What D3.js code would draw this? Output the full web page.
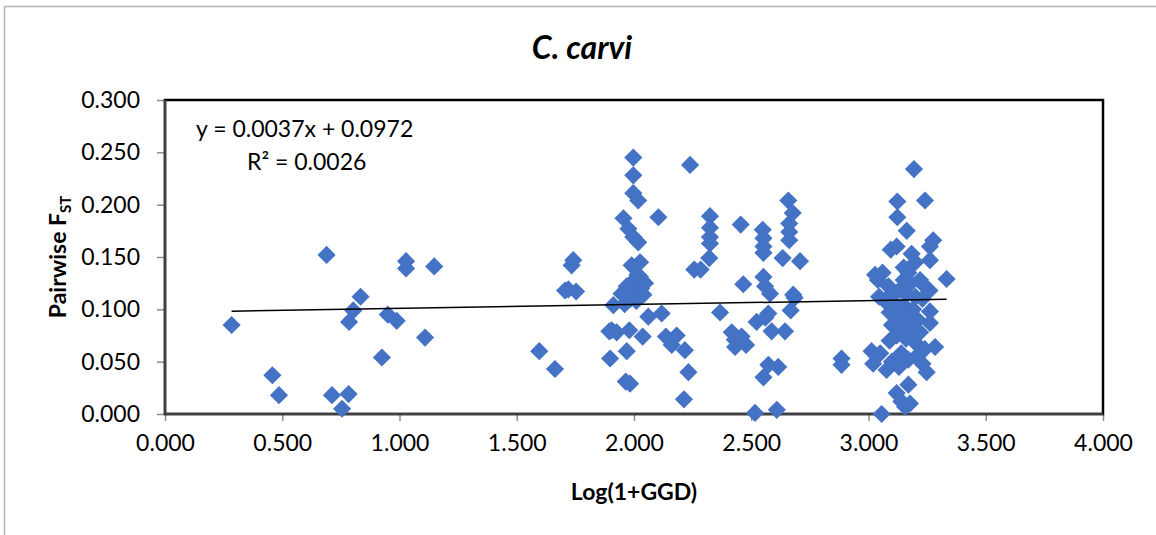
<!DOCTYPE html>
<html>
<head>
<meta charset="utf-8">
<script src="https://cdn.jsdelivr.net/npm/d3@7"></script>
<style>
  html, body { margin: 0; padding: 0; background: #fff; }
  svg { display: block; font-family: Lato, "Open Sans", sans-serif; }
</style>
</head>
<body>
<svg id="chart" width="1156" height="535"></svg>
<script>
// ---- data ----
const title = "C. carvi";
const xTitle = "Log(1+GGD)";
const yTitleMain = "Pairwise F";
const yTitleSub = "ST";
const equationText = "y = 0.0037x + 0.0972";
const r2Text = "R² = 0.0026";
const slope = 0.0037;
const intercept = 0.0972;
const xTicks = [0, 0.5, 1, 1.5, 2, 2.5, 3, 3.5, 4];
const yTicks = [0, 0.05, 0.1, 0.15, 0.2, 0.25, 0.3];

const ggd = [
  0.284, 0.458, 0.486, 0.689, 0.712, 0.755, 0.783, 0.785, 0.803, 0.834,
  0.925, 0.950, 0.988, 1.028, 1.028, 1.109, 1.148, 1.596, 1.663, 1.706,
  1.734, 1.741, 1.753, 1.720,
  1.997, 1.997, 1.997, 2.018, 1.955, 1.976, 1.997, 2.018, 2.104, 2.239,
  2.257, 1.990, 2.026, 2.026, 2.047, 1.969, 1.997, 2.004, 2.040, 1.947,
  1.912, 2.061, 2.118, 1.905, 1.926, 1.980, 2.037, 2.136, 2.182, 2.161,
  2.217, 1.969, 1.898, 1.983, 1.965, 2.232, 2.213, 2.010, 1.985, 2.030,
  1.960, 2.015, 1.895,
  2.324, 2.324, 2.324, 2.324, 2.321, 2.284, 2.455, 2.549, 2.552, 2.552,
  2.552, 2.658, 2.677, 2.662, 2.662, 2.662, 2.634, 2.708, 2.466, 2.552,
  2.559, 2.580, 2.679, 2.668, 2.367, 2.573, 2.523, 2.587, 2.644, 2.417,
  2.459, 2.431, 2.478, 2.573, 2.615, 2.552, 2.516, 2.609, 2.685, 2.560,
  2.430,
  2.885, 2.885,
  3.194, 3.123, 3.241, 3.123, 3.163, 3.276, 3.262, 3.095, 3.120, 3.184,
  3.262, 3.200, 3.028, 3.040, 3.333, 3.085, 3.150, 3.170, 3.150, 3.180,
  3.220, 3.240, 3.260, 3.100, 3.130, 3.160, 3.200, 3.230, 3.070, 3.110,
  3.150, 3.190, 3.262, 3.090, 3.130, 3.170, 3.210, 3.262, 3.100, 3.140,
  3.180, 3.220, 3.120, 3.160, 3.090, 3.200, 3.284, 3.240, 3.013, 3.050,
  3.140, 3.205, 3.170, 3.020, 3.100, 3.230, 3.077, 3.130, 3.248, 3.170,
  3.120, 3.156, 3.177, 3.056, 3.140, 3.060, 3.045
];
const fst = [
  0.085, 0.037, 0.018, 0.152, 0.018, 0.005, 0.019, 0.088, 0.099, 0.112,
  0.054, 0.095, 0.089, 0.146, 0.139, 0.073, 0.141, 0.060, 0.043, 0.118,
  0.142, 0.147, 0.117, 0.119,
  0.245, 0.228, 0.211, 0.204, 0.187, 0.177, 0.169, 0.164, 0.188, 0.238,
  0.138, 0.142, 0.145, 0.131, 0.125, 0.122, 0.127, 0.117, 0.114, 0.115,
  0.104, 0.093, 0.096, 0.080, 0.078, 0.080, 0.074, 0.074, 0.075, 0.066,
  0.061, 0.060, 0.053, 0.029, 0.031, 0.040, 0.014, 0.108, 0.110, 0.120,
  0.105, 0.133, 0.079,
  0.189, 0.178, 0.169, 0.163, 0.149, 0.138, 0.181, 0.176, 0.168, 0.160,
  0.154, 0.204, 0.192, 0.182, 0.174, 0.166, 0.149, 0.146, 0.124, 0.131,
  0.122, 0.115, 0.114, 0.099, 0.097, 0.096, 0.088, 0.079, 0.079, 0.078,
  0.074, 0.064, 0.066, 0.047, 0.045, 0.035, 0.001, 0.004, 0.111, 0.092,
  0.071,
  0.053, 0.047,
  0.234, 0.203, 0.204, 0.188, 0.175, 0.166, 0.160, 0.157, 0.160, 0.153,
  0.147, 0.145, 0.133, 0.128, 0.129, 0.122, 0.140, 0.135, 0.128, 0.125,
  0.128, 0.122, 0.118, 0.115, 0.118, 0.115, 0.112, 0.110, 0.108, 0.105,
  0.104, 0.100, 0.098, 0.097, 0.094, 0.092, 0.090, 0.087, 0.085, 0.082,
  0.080, 0.078, 0.075, 0.072, 0.070, 0.068, 0.064, 0.062, 0.060, 0.058,
  0.058, 0.055, 0.052, 0.048, 0.050, 0.048, 0.042, 0.045, 0.040, 0.028,
  0.020, 0.007, 0.010, 0.000, 0.012, 0.135, 0.112
];

// ---- layout ----
const svg = d3.select("#chart");
const plot = { left: 165, right: 1103, top: 100, bottom: 414 };
const x = d3.scaleLinear().domain([0, 4]).range([plot.left, plot.right]);
const y = d3.scaleLinear().domain([0, 0.3]).range([plot.bottom, plot.top]);
const blue = "#4472C4";
const fontSize = 23;

// outer chart frame
svg.append("rect")
  .attr("x", 4.5).attr("y", 6.5)
  .attr("width", 1170).attr("height", 560)
  .attr("fill", "none").attr("stroke", "#b4b4b4").attr("stroke-width", 1.5);

// title
svg.append("text")
  .attr("x", 582).attr("y", 59)
  .attr("text-anchor", "middle")
  .attr("font-size", 32).attr("font-weight", "bold").attr("font-style", "italic")
  .attr("fill", "#000")
  .text(title);

// y axis
const yAxis = svg.append("g")
  .attr("transform", `translate(${plot.left},0)`)
  .call(d3.axisLeft(y).tickValues(yTicks).tickFormat(d3.format(".3f")).tickSize(8).tickPadding(17));
yAxis.select(".domain").remove();
yAxis.selectAll(".tick line").attr("stroke", "#8c8c8c").attr("stroke-width", 1.5);
yAxis.selectAll(".tick text").attr("font-size", fontSize).attr("font-family", "Lato").attr("fill", "#000");

// x axis
const xAxis = svg.append("g")
  .attr("transform", `translate(0,${plot.bottom})`)
  .call(d3.axisBottom(x).tickValues(xTicks).tickFormat(d3.format(".3f")).tickSize(7).tickPadding(14));
xAxis.select(".domain").remove();
xAxis.selectAll(".tick line").attr("stroke", "#8c8c8c").attr("stroke-width", 1.5);
xAxis.selectAll(".tick text").attr("font-size", fontSize).attr("font-family", "Lato").attr("fill", "#000");

// plot area border
svg.append("rect")
  .attr("x", plot.left).attr("y", plot.top)
  .attr("width", plot.right - plot.left).attr("height", plot.bottom - plot.top)
  .attr("fill", "none").attr("stroke", "#000").attr("stroke-width", 2.5);
svg.append("line")
  .attr("x1", plot.left).attr("x2", plot.right)
  .attr("y1", plot.bottom).attr("y2", plot.bottom)
  .attr("stroke", "#404040").attr("stroke-width", 2.5);
svg.append("line")
  .attr("x1", plot.left).attr("x2", plot.left)
  .attr("y1", plot.top).attr("y2", plot.bottom)
  .attr("stroke", "#404040").attr("stroke-width", 2.5);

// points
const points = ggd.map((g, i) => ({ g, f: fst[i] }));
const diamond = d3.symbol().type(d3.symbolSquare).size(165);
svg.append("g")
  .selectAll("path")
  .data(points)
  .join("path")
  .attr("d", diamond)
  .attr("transform", d => `translate(${x(d.g)},${y(d.f)}) rotate(45)`)
  .attr("fill", blue);

// trend line
const xMin = d3.min(ggd), xMax = d3.max(ggd);
svg.append("line")
  .attr("x1", x(xMin)).attr("y1", y(intercept + slope * xMin))
  .attr("x2", x(xMax)).attr("y2", y(intercept + slope * xMax))
  .attr("stroke", "#000").attr("stroke-width", 1.5);

// equation
svg.append("text")
  .attr("x", 196).attr("y", 137)
  .attr("font-size", fontSize).attr("fill", "#000")
  .text(equationText);
svg.append("text")
  .attr("x", 247).attr("y", 170)
  .attr("font-size", fontSize).attr("fill", "#000")
  .text(r2Text);

// axis titles
svg.append("text")
  .attr("x", 634).attr("y", 500)
  .attr("text-anchor", "middle")
  .attr("font-size", fontSize).attr("font-weight", "bold").attr("fill", "#000")
  .text(xTitle);

const yt = svg.append("text")
  .attr("transform", "translate(66,257) rotate(-90)")
  .attr("text-anchor", "middle")
  .attr("font-size", fontSize).attr("font-weight", "bold").attr("fill", "#000");
yt.append("tspan").text(yTitleMain);
yt.append("tspan").attr("font-size", 15).attr("dy", 5).text(yTitleSub);
</script>
</body>
</html>
